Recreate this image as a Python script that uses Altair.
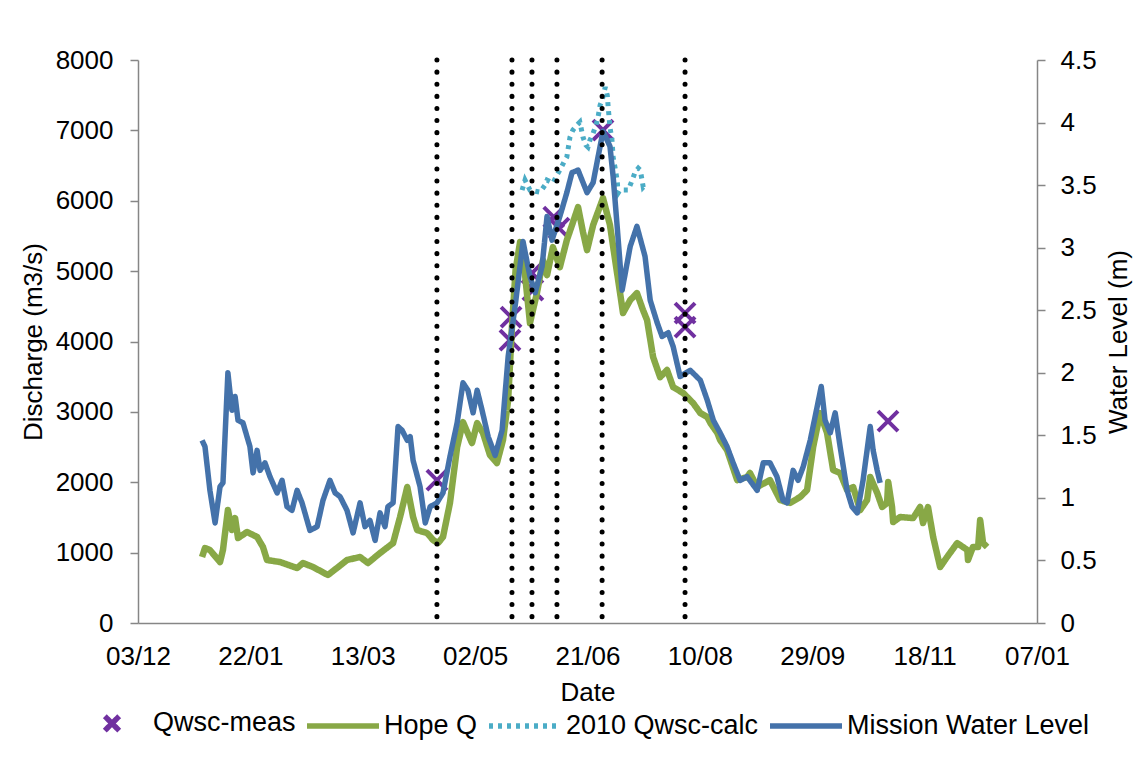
import altair as alt
import pandas as pd

FONT = "Liberation Sans"
START = pd.Timestamp("2009-12-03")

SERIES = ["Qwsc-meas", "Hope Q", "2010 Qwsc-calc", "Mission Water Level"]
COLORS = ["#7030a0", "#88a846", "#4bacc6", "#4472aa"]
DASHES = [[1, 0], [1, 0], [4, 5], [1, 0]]
XPATH = "M-0.2,-0.2L0.2,0.2M-0.2,0.2L0.2,-0.2"
SHAPES = [XPATH, "stroke", "stroke", "stroke"]

# days since 03/12/2009
hope_day = [28.5, 29.8, 32, 36.5, 37.8, 40, 41.8, 43.2, 44.5, 48.5, 53, 55.6, 57.4, 63.2, 70.8,
            73.4, 77.9, 84.5, 88.5, 93, 98.8, 102.3, 107.7, 113.5, 116.6, 119.8, 122.4, 124.2,
            128.6, 131.3, 133.5, 135.7, 138.8, 142, 144.6, 148.6, 150.9, 153.5, 156.6, 159.7,
            162.4, 164.7, 166.3, 168, 170, 172, 174.4, 177.5, 180.2, 182, 184.6, 187.7, 190.8,
            193.1, 195.8, 198, 199.8, 202.5, 206.9, 210, 212.3, 214.5, 215.8, 219, 222, 224.7,
            226.5, 229.2, 232.3, 235.4, 238.1, 242.6, 247, 250.2, 253.3, 254.7, 257.8, 259,
            262.1, 266.6, 271, 272.3, 275.5, 281.2, 285.7, 290.1, 294.6, 297.7, 300.4, 303.5,
            306.6, 309.3, 312.4, 315.5, 318.2, 321.3, 324.4, 325.8, 328.9, 331.1, 333.3, 333.8,
            335.5, 336, 339.1, 344.9, 348, 349.3, 351.5, 353.8, 356.9, 360, 364.5, 369, 369.3,
            371.5, 373.8, 374.7, 376, 377.8]
hope_q = [938, 1065, 1037, 866, 1037, 1605, 1321, 1491, 1207, 1293, 1222, 1080, 895, 866, 781,
          852, 795, 682, 781, 895, 938, 852, 994, 1136, 1506, 1932, 1506, 1321,
          1278, 1179, 1136, 1222, 1705, 2500, 2855, 2557, 2841, 2700, 2386, 2273,
          2600, 3168, 4162, 5014, 5412, 5014, 4262, 4688, 5156, 4943, 5341, 5057, 5440,
          5654, 5909, 5554, 5298, 5654, 6037, 5654, 5156, 4688, 4404, 4588, 4688, 4446,
          4304, 3778, 3494, 3594, 3352, 3267, 3125, 2983, 2926, 2841, 2699, 2600,
          2457, 2031, 2074, 2131, 1932, 2031, 1747, 1705, 1790, 1889, 2500, 2983,
          2699, 2173, 2131, 1889, 1932, 1605, 1747, 2074, 1847, 1648, 1705, 2003,
          1648, 1435, 1506, 1491, 1648, 1420, 1648, 1222, 795, 938, 1136, 1037, 895,
          1080, 1080, 1463, 1136, 1080]

wl_day = [28.5, 29.8, 32, 34.3, 36.5, 37.8, 40, 41.8, 43.2, 44.5, 46.7, 49.8, 51.2, 53, 54.3,
          56.5, 58.7, 61.9, 64.1, 66.3, 68.5, 70.8, 73, 76.5, 79.7, 82.3, 85.4, 87.7, 89.9, 93,
          95.7, 98.8, 101, 103.2, 105.5, 107.7, 109.9, 111.2, 113.5, 115.7, 117.5, 119.8,
          121.1, 122.4, 125.5, 127.8, 130, 133, 135.7, 138.8, 142, 144.6, 146.8, 149.1, 150.9,
          153.1, 155.8, 158.9, 162, 164.7, 168, 171.3, 174.4, 176.7, 179.8, 182, 184.2, 187.7,
          190.8, 193.1, 195.8, 199.8, 202.5, 206.9, 210, 211.4, 213.2, 215.4, 219, 222, 225.6,
          227.9, 231, 233.2, 235.9, 238.1, 241.2, 245.7, 250.2, 253.3, 256, 259, 262.1, 264.8,
          267.9, 271, 275.5, 278.2, 281.2, 284.3, 287, 288.8, 291.5, 293.7, 296, 299.1, 302.2,
          304, 305.7, 308, 310.2, 312.4, 315.5, 317.7, 320, 322.6, 325.8, 327.1, 328.9, 330.2]
wl_m = [1.46, 1.41, 1.06, 0.80, 1.09, 1.12, 2.00, 1.70, 1.81, 1.62, 1.60, 1.41, 1.20, 1.38, 1.22,
        1.28, 1.17, 1.04, 1.14, 0.93, 0.90, 1.06, 0.96, 0.74, 0.77, 0.98, 1.14, 1.04, 1.01, 0.90,
        0.72, 0.96, 0.77, 0.82, 0.66, 0.88, 0.77, 0.93, 0.96, 1.57, 1.54, 1.46,
        1.49, 1.30, 1.09, 0.80, 0.93, 0.96, 1.04, 1.33, 1.60, 1.92, 1.86, 1.68, 1.86,
        1.70, 1.49, 1.34, 1.54, 2.13, 2.56, 3.05, 2.77, 2.64, 2.85, 3.25, 3.06, 3.25,
        3.44, 3.60, 3.62, 3.44, 3.52, 3.93, 3.81, 3.57, 3.17, 2.66, 3.01, 3.17, 2.93,
        2.58, 2.40, 2.29, 2.32, 2.21, 1.97, 2.02, 1.94, 1.78, 1.62, 1.52, 1.41, 1.28,
        1.14, 1.17, 1.06, 1.28, 1.28, 1.17, 0.98, 0.96, 1.22, 1.14, 1.25, 1.46, 1.73,
        1.89, 1.62, 1.52, 1.68, 1.41, 1.06, 0.93, 0.88, 1.14, 1.57, 1.38, 1.22, 1.12]

calc_day = [170.9, 172.2, 174.4, 178.9, 181.1, 182, 184.6, 186.4, 187.7, 189.5, 190.8, 192.2,
            193.5, 195.3, 196.6, 198, 199.3, 200.2, 201.1, 202.5, 203.8, 204.7, 205.6, 206.5,
            207.9, 208.8, 209.2, 210, 210.9, 211.4, 212.3, 213.2, 213.6, 214.5, 218.1, 219.9,
            221.2, 222.6, 223.5, 224.8, 225.7]
calc_q = [6151, 6293, 6151, 6122, 6222, 6293, 6250, 6364, 6435, 6549, 6620, 6903,
          7003, 7074, 7117, 6903, 6790, 6762, 6861, 6960, 7074, 7188, 7358, 7429,
          7614, 7500, 7330, 7046, 6861, 6620, 6463, 6293, 6108, 6151, 6151, 6293,
          6406, 6463, 6435, 6193, 6222]

meas_day = [133, 165.5, 166, 175.3, 175.7, 185, 187.3, 206.9, 243.4, 243.4, 333.7]
meas_q = [2031, 4020, 4347, 4972, 4730, 5767, 5611, 7003, 4404, 4205, 2869]

event_day = [133, 166.4, 175.3, 186.4, 206.5, 243.4]

tick_day = [0, 50, 100, 150, 200, 250, 300, 350, 400]
q_ticks = [0, 1000, 2000, 3000, 4000, 5000, 6000, 7000, 8000]
wl_ticks = [0, 0.5, 1, 1.5, 2, 2.5, 3, 3.5, 4, 4.5]


def to_date(days):
    return START + pd.to_timedelta(pd.Series(days, dtype=float), unit="D")


def dt(day):
    t = START + pd.Timedelta(days=day)
    return alt.DateTime(year=t.year, month=t.month, date=t.day, hours=t.hour)


df_hope = pd.DataFrame({"date": to_date(hope_day), "q": hope_q, "series": "Hope Q"})
df_calc = pd.DataFrame({"date": to_date(calc_day), "q": calc_q, "series": "2010 Qwsc-calc"})
df_wl = pd.DataFrame({"date": to_date(wl_day), "wl": wl_m, "series": "Mission Water Level"})
df_meas = pd.DataFrame({"date": to_date(meas_day), "q": meas_q, "series": "Qwsc-meas"})
df_ev = pd.DataFrame({"date": to_date(event_day)})

x_enc = alt.X(
    "date:T",
    scale=alt.Scale(domain=[dt(0), dt(400)]),
    axis=alt.Axis(values=[dt(d) for d in tick_day], format="%d/%m", ticks=False, tickSize=0,
                  labelPadding=20, labelFlush=False, labelOverlap=False,
                  title="Date", titleY=69, titleBaseline="middle"),
)
left_axis = alt.Axis(orient="left", values=q_ticks, format="d", tickSize=8, labelPadding=17,
                     title="Discharge (m3/s)", titleX=-105, titleY=281.5, titleAngle=270,
                     titleBaseline="middle", titleAlign="center")
right_axis = alt.Axis(orient="right", values=wl_ticks, format="~g", tickSize=8, labelPadding=15,
                      title="Water Level (m)", titleX=81, titleY=281.5, titleAngle=270,
                      titleBaseline="middle", titleAlign="center")
y_left = alt.Scale(domain=[0, 8000])
y_right = alt.Scale(domain=[0, 4.5])

color_enc = alt.Color("series:N", title=None, scale=alt.Scale(domain=SERIES, range=COLORS))
dash_enc = alt.StrokeDash("series:N", title=None, scale=alt.Scale(domain=SERIES, range=DASHES))
shape_enc = alt.Shape("series:N", title=None, scale=alt.Scale(domain=SERIES, range=SHAPES))

points = alt.Chart(df_meas).mark_point(filled=False, size=10000, strokeWidth=4, opacity=1).encode(
    x=x_enc, y=alt.Y("q:Q", scale=y_left, axis=left_axis), color=color_enc, shape=shape_enc)
green = alt.Chart(df_hope).mark_line(strokeWidth=6.5, strokeJoin="round").encode(
    x=x_enc, y=alt.Y("q:Q", scale=y_left, axis=left_axis), color=color_enc, strokeDash=dash_enc)
cyan = alt.Chart(df_calc).mark_line(strokeWidth=5, strokeCap="butt").encode(
    x=x_enc, y=alt.Y("q:Q", scale=y_left, axis=left_axis), color=color_enc, strokeDash=dash_enc)
left_group = alt.layer(points, green, cyan)

blue = alt.Chart(df_wl).mark_line(strokeWidth=5.5, strokeJoin="round").encode(
    x=x_enc, y=alt.Y("wl:Q", scale=y_right, axis=right_axis), color=color_enc, strokeDash=dash_enc)

rules = alt.Chart(df_ev).mark_rule(strokeWidth=5, strokeCap="round", strokeDash=[0.1, 12],
                                   color="black").encode(
    x=alt.X("date:T"), y=alt.value(0), y2=alt.value(563))

chart = alt.layer(left_group, blue, rules).resolve_scale(y="independent").properties(
    width=899, height=563,
    autosize=alt.AutoSizeParams(type="none"),
    padding={"left": 138, "top": 60, "right": 106, "bottom": 134},
    background="white",
).configure_view(strokeWidth=0).configure_axis(
    labelFont=FONT, labelFontSize=26, labelColor="black",
    titleFont=FONT, titleFontSize=26, titleFontWeight="normal", titleColor="black",
    domainColor="#868686", tickColor="#868686", domainWidth=1.5, tickWidth=1.5, grid=False,
).configure_legend(
    orient="none", legendX=-65, legendY=624, direction="horizontal",
    labelFont=FONT, labelFontSize=27, labelColor="black", labelLimit=600,
    symbolSize=5184, symbolStrokeWidth=5.5, columnPadding=0, labelOffset=2,
    padding=0, rowPadding=0,
)

chart.save("out.html", embed_options={"renderer": "svg", "actions": False})
